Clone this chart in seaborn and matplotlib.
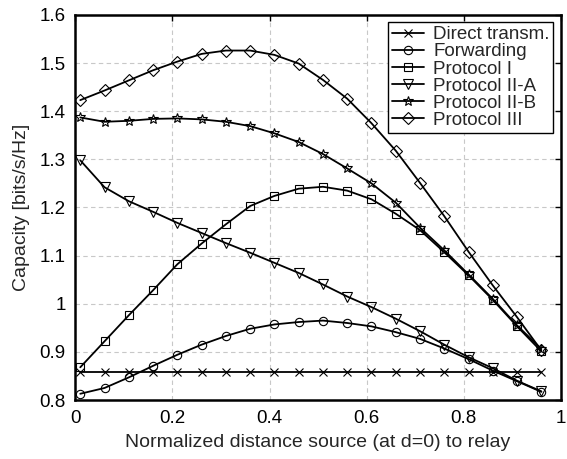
import numpy as np
import pandas as pd
import seaborn as sns
import matplotlib
matplotlib.use("Agg")
import matplotlib.pyplot as plt
from matplotlib.ticker import FuncFormatter

d = [0.01, 0.06, 0.11, 0.16, 0.21, 0.26, 0.31, 0.36, 0.41, 0.46,
     0.51, 0.56, 0.61, 0.66, 0.71, 0.76, 0.81, 0.86, 0.91, 0.96]

direct = [0.858] * 20
forwarding = [0.813, 0.825, 0.847, 0.871, 0.894, 0.915, 0.933, 0.948, 0.957, 0.962,
              0.965, 0.960, 0.953, 0.941, 0.927, 0.907, 0.885, 0.861, 0.839, 0.817]
protocol_1 = [0.868, 0.922, 0.976, 1.028, 1.082, 1.125, 1.165, 1.203, 1.224, 1.239,
              1.243, 1.235, 1.217, 1.187, 1.153, 1.107, 1.059, 1.008, 0.953, 0.901]
protocol_2a = [1.298, 1.242, 1.213, 1.191, 1.168, 1.147, 1.126, 1.106, 1.085, 1.064,
               1.040, 1.015, 0.993, 0.969, 0.943, 0.915, 0.889, 0.866, 0.840, 0.818]
protocol_2b = [1.387, 1.378, 1.380, 1.384, 1.385, 1.383, 1.378, 1.369, 1.354, 1.336,
               1.311, 1.281, 1.250, 1.210, 1.158, 1.111, 1.061, 1.010, 0.955, 0.906]
protocol_3 = [1.423, 1.443, 1.464, 1.485, 1.503, 1.519, 1.526, 1.526, 1.517, 1.499,
              1.465, 1.426, 1.375, 1.318, 1.251, 1.182, 1.108, 1.038, 0.972, 0.903]

names = ["Direct transm.", "Forwarding", "Protocol I", "Protocol II-A",
         "Protocol II-B", "Protocol III"]
series = [direct, forwarding, protocol_1, protocol_2a, protocol_2b, protocol_3]
markers = ["x", "o", "s", "v", "*", "D"]
msizes = [5.5, 6, 5.2, 6.5, 7, 6]

sns.set_style("white")
plt.rcParams['font.family'] = ['Liberation Sans', 'DejaVu Sans']

fig = plt.figure(figsize=(5.67, 4.59), dpi=100)
ax = fig.add_axes([0.133, 0.1285, 0.856, 0.839])

for name, vals, m, ms in zip(names, series, markers, msizes):
    sns.lineplot(x=d, y=vals, ax=ax, color="black", linewidth=1.3,
                 marker=m, markersize=ms, markerfacecolor="none",
                 markeredgecolor="black", markeredgewidth=0.8, label=name)

ax.set_xlim(0, 1)
ax.set_ylim(0.8, 1.6)
ax.set_xticks([0, 0.2, 0.4, 0.6, 0.8, 1.0])
ax.set_yticks([0.8, 0.9, 1.0, 1.1, 1.2, 1.3, 1.4, 1.5, 1.6])
fmt = FuncFormatter(lambda v, p: "%g" % round(v, 2))
ax.xaxis.set_major_formatter(fmt)
ax.yaxis.set_major_formatter(fmt)
ax.grid(True, color="#c8c8c8", linestyle=(0, (4, 3)), linewidth=0.8)
ax.tick_params(direction="in", length=4, width=1, top=True, right=True,
               labelsize=13.5, colors="black")
ax.tick_params(axis="y", pad=7)
ax.tick_params(axis="x", pad=7)
for s in ax.spines.values():
    s.set_color("black")
    s.set_linewidth(1.8)

ax.set_xlabel("Normalized distance source (at d=0) to relay", fontsize=14, labelpad=5)
ax.set_ylabel("Capacity [bits/s/Hz]", fontsize=14, labelpad=7)

leg = ax.legend(loc="upper right", fontsize=13.5, frameon=True, fancybox=False,
                edgecolor="black", handlelength=1.7, handletextpad=0.5,
                borderpad=0.2, labelspacing=0.0, borderaxespad=0.4)
leg.get_frame().set_linewidth(1.0)
leg.get_frame().set_alpha(1)

fig.savefig("out.png", dpi=100)
